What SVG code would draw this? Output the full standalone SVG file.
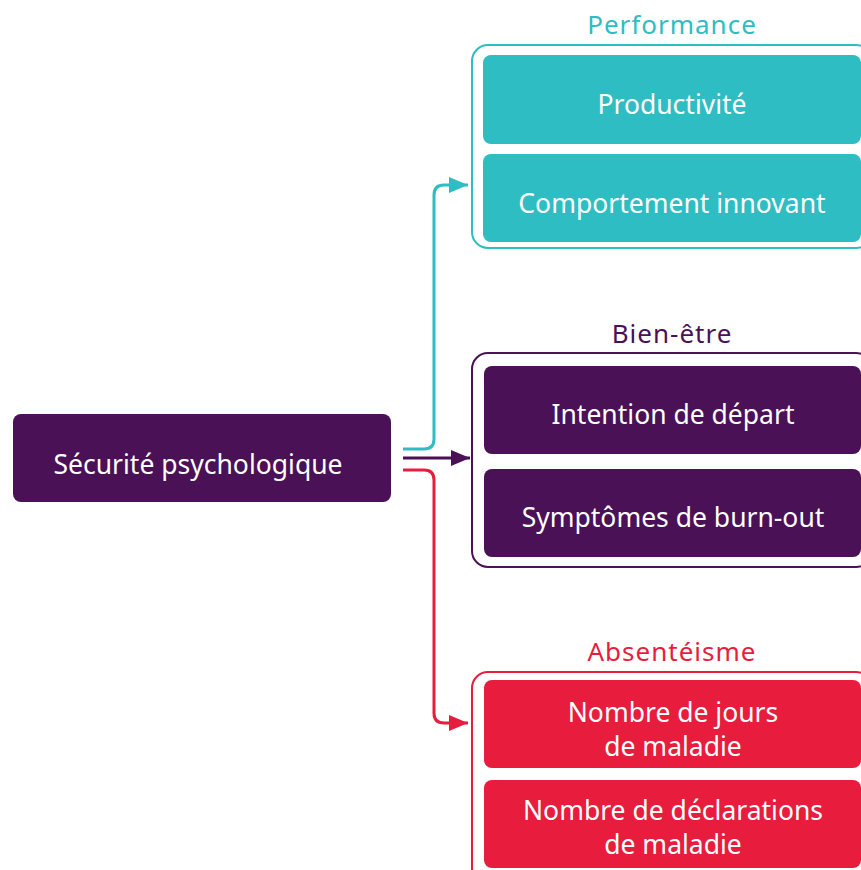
<svg xmlns="http://www.w3.org/2000/svg" width="861" height="870" viewBox="0 0 861 870">
<defs>
<style>
.lbl{font-family:"Noto Sans","Open Sans",sans-serif;font-size:26.5px;fill:#ffffff;text-anchor:middle}
.ttl{font-family:"Noto Sans","Open Sans",sans-serif;font-size:26px;letter-spacing:1px;text-anchor:middle}
.grp{fill:none;stroke-width:2}
.con{fill:none;stroke-width:3}
</style>
<marker id="aT" markerWidth="20" markerHeight="16" refX="19" refY="8" orient="auto" markerUnits="userSpaceOnUse"><path d="M0,0 L19,8 L0,16 Z" fill="#2EBDC2"/></marker>
<marker id="aP" markerWidth="20" markerHeight="16" refX="19" refY="8" orient="auto" markerUnits="userSpaceOnUse"><path d="M0,0 L19,8 L0,16 Z" fill="#4A1157"/></marker>
<marker id="aR" markerWidth="20" markerHeight="16" refX="19" refY="8" orient="auto" markerUnits="userSpaceOnUse"><path d="M0,0 L19,8 L0,16 Z" fill="#E81C3C"/></marker>
</defs>
<rect width="861" height="870" fill="#ffffff"/>

<g id="source">
<rect x="13" y="414" width="378" height="88" rx="8" fill="#4A1157"/>
<text class="lbl" x="198" y="474">Sécurité psychologique</text>
</g>

<g id="performance">
<text class="ttl" x="672" y="34" fill="#2EBDC2">Performance</text>
<rect class="grp" x="472" y="45" width="400" height="203" rx="16" stroke="#2EBDC2"/>
<g id="productivite">
<rect x="483" y="55" width="378" height="89" rx="8" fill="#2EBDC2"/>
<text class="lbl" x="672" y="114">Productivité</text>
</g>
<g id="comportement">
<rect x="483" y="154" width="378" height="88" rx="8" fill="#2EBDC2"/>
<text class="lbl" x="672" y="213">Comportement innovant</text>
</g>
</g>

<g id="bienetre">
<text class="ttl" x="672" y="343" fill="#4A1157">Bien-être</text>
<rect class="grp" x="472" y="353" width="400" height="214" rx="16" stroke="#4A1157"/>
<g id="intention">
<rect x="484" y="366" width="377" height="88" rx="8" fill="#4A1157"/>
<text class="lbl" x="673" y="424">Intention de départ</text>
</g>
<g id="burnout">
<rect x="484" y="469" width="377" height="88" rx="8" fill="#4A1157"/>
<text class="lbl" x="673" y="527">Symptômes de burn-out</text>
</g>
</g>

<g id="absenteisme">
<text class="ttl" x="672" y="661" fill="#E81C3C">Absentéisme</text>
<rect class="grp" x="472" y="672" width="400" height="214" rx="16" stroke="#E81C3C"/>
<g id="jours">
<rect x="484" y="680" width="377" height="88" rx="8" fill="#E81C3C"/>
<text class="lbl" x="673" y="722">Nombre de jours</text>
<text class="lbl" x="673" y="756">de maladie</text>
</g>
<g id="declarations">
<rect x="484" y="780" width="377" height="88" rx="8" fill="#E81C3C"/>
<text class="lbl" x="673" y="820">Nombre de déclarations</text>
<text class="lbl" x="673" y="854">de maladie</text>
</g>
</g>

<g id="connectors">
<path class="con" d="M403,449 H424 Q434,449 434,439 V195 Q434,185 444,185 H468" stroke="#2EBDC2" marker-end="url(#aT)"/>
<path class="con" d="M403,458 H470" stroke="#4A1157" marker-end="url(#aP)"/>
<path class="con" d="M403,470 H424 Q434,470 434,480 V713 Q434,723 444,723 H468" stroke="#E81C3C" marker-end="url(#aR)"/>
</g>
</svg>
